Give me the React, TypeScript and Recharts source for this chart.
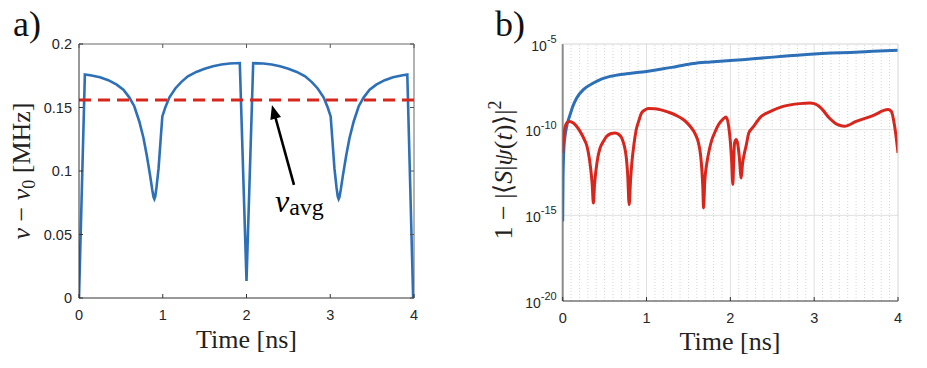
import React from 'react';
import { LineChart, Line, XAxis, YAxis, ReferenceLine } from 'recharts';

const SANS = '"Liberation Sans", Arial, Helvetica, sans-serif';
const SERIF = '"Liberation Serif", "Times New Roman", serif';

// ---------- shared ----------
const timeTicks = [0, 1, 2, 3, 4];

// ---------- panel a ----------
const aYTicks = [0, 0.05, 0.1, 0.15, 0.2];
const aYTickLabels = ['0', '0.05', '0.1', '0.15', '0.2'];
const aTimes = [0, 0.07, 0.15, 0.25, 0.35, 0.45, 0.53, 0.6, 0.66, 0.72, 0.77, 0.81, 0.85, 0.875, 0.89, 0.9, 0.91, 0.925, 0.95, 0.975, 0.995, 1.03, 1.08, 1.15, 1.22, 1.3, 1.4, 1.5, 1.6, 1.7, 1.8, 1.92, 2.0, 2.08, 2.2, 2.3, 2.4, 2.5, 2.6, 2.7, 2.78, 2.85, 2.92, 2.97, 3.005, 3.025, 3.05, 3.075, 3.09, 3.1, 3.11, 3.125, 3.15, 3.19, 3.23, 3.28, 3.34, 3.4, 3.47, 3.55, 3.65, 3.75, 3.85, 3.92, 3.99];
const aValues = [0, 0.176, 0.1752, 0.1738, 0.1715, 0.168, 0.164, 0.158, 0.151, 0.139, 0.126, 0.112, 0.096, 0.085, 0.0795, 0.078, 0.0798, 0.087, 0.102, 0.125, 0.143, 0.15, 0.158, 0.165, 0.17, 0.1745, 0.178, 0.1805, 0.1825, 0.1838, 0.1846, 0.185, 0.0134, 0.185, 0.1846, 0.1838, 0.1825, 0.1805, 0.178, 0.1745, 0.17, 0.165, 0.158, 0.15, 0.143, 0.125, 0.102, 0.087, 0.0798, 0.078, 0.0795, 0.085, 0.096, 0.112, 0.126, 0.139, 0.151, 0.158, 0.164, 0.168, 0.1715, 0.1738, 0.1752, 0.176, 0];
const vAvg = 0.156;
const arrowTail = { t: 2.567, v: 0.089 };
const arrowHead = { t: 2.304, v: 0.152 };

// ---------- panel b ----------
const bYTicks = [1e-20, 1e-15, 1e-10, 1e-5];
const bYTickExps = ['-20', '-15', '-10', '-5'];
const bMajorX = [1, 2, 3];
const bMajorY = [1e-15, 1e-10];
const bMinorX = [0.1, 0.2, 0.3, 0.4, 0.5, 0.6, 0.7, 0.8, 0.9, 1.1, 1.2, 1.3, 1.4, 1.5, 1.6, 1.7, 1.8, 1.9, 2.1, 2.2, 2.3, 2.4, 2.5, 2.6, 2.7, 2.8, 2.9, 3.1, 3.2, 3.3, 3.4, 3.5, 3.6, 3.7, 3.8, 3.9];

const blueTimes = [0, 0.004, 0.016, 0.03, 0.048, 0.068, 0.088, 0.12, 0.167, 0.25, 0.366, 0.46, 0.565, 0.764, 1.0, 1.2, 1.36, 1.56, 1.76, 2.0, 2.24, 2.35, 2.63, 2.8, 3.0, 3.2, 3.43, 3.7, 4.0];
const blueExps = [-15.35, -12.8, -10.97, -10.3, -9.8, -9.42, -9.12, -8.65, -8.15, -7.65, -7.28, -7.05, -6.89, -6.73, -6.6, -6.45, -6.31, -6.14, -6.05, -5.96, -5.88, -5.83, -5.72, -5.65, -5.58, -5.53, -5.49, -5.43, -5.37];

const redTimes = [0, 0.016, 0.048, 0.08, 0.127, 0.207, 0.26, 0.29, 0.315, 0.335, 0.352, 0.366, 0.38, 0.398, 0.42, 0.446, 0.49, 0.525, 0.57, 0.625, 0.67, 0.705, 0.735, 0.757, 0.775, 0.793, 0.81, 0.825, 0.85, 0.877, 0.91, 0.94, 0.98, 1.02, 1.1, 1.16, 1.26, 1.36, 1.45, 1.52, 1.58, 1.62, 1.645, 1.66, 1.672, 1.68, 1.695, 1.72, 1.75, 1.78, 1.82, 1.86, 1.91, 1.95, 1.98, 2.0, 2.015, 2.03, 2.04, 2.05, 2.07, 2.09, 2.105, 2.13, 2.145, 2.16, 2.19, 2.22, 2.28, 2.35, 2.48, 2.63, 2.83, 2.95, 3.0, 3.08, 3.18, 3.28, 3.36, 3.5, 3.7, 3.88, 3.92, 3.96, 4.0];
const redExps = [-11.36, -10.2, -9.61, -9.52, -9.61, -10.1, -10.6, -10.97, -11.6, -12.33, -13.2, -14.28, -13.2, -12.33, -11.6, -11.07, -10.65, -10.39, -10.24, -10.19, -10.28, -10.49, -10.95, -11.56, -12.6, -14.38, -12.9, -11.94, -10.85, -10.0, -9.45, -9.03, -8.85, -8.77, -8.78, -8.83, -8.98, -9.18, -9.45, -9.8, -10.25, -10.78, -11.5, -12.33, -13.4, -14.57, -13.0, -11.94, -11.15, -10.58, -10.1, -9.7, -9.4, -9.26, -9.8, -10.7, -11.8, -13.2, -11.8, -10.78, -10.58, -10.9, -11.5, -12.82, -12.0, -11.56, -10.9, -10.2, -9.8, -9.32, -8.93, -8.64, -8.48, -8.45, -8.48, -8.73, -9.32, -9.71, -9.8, -9.52, -9.18, -8.83, -8.93, -9.8, -11.36];

const aData = aTimes.map((t, i) => ({ t, v: aValues[i] }));
const blueData = blueTimes.map((t, i) => ({ t, v: Math.pow(10, blueExps[i]) }));
const redData = redTimes.map((t, i) => ({ t, v: Math.pow(10, redExps[i]) }));

const BLUE = '#2e70b8';
const RED = '#d9261c';
const TICK_TEXT = '#262626';

// ---------- custom ticks ----------
function BottomTick(props: any) {
  const { x, y, payload } = props;
  return (
    <g>
      <line x1={x} y1={y} x2={x} y2={y - 4} stroke="#333" strokeWidth={1} />
      <text x={x} y={y + 21.5} textAnchor="middle" fontFamily={SANS} fontSize={14.5} fill={TICK_TEXT}>
        {payload.value}
      </text>
    </g>
  );
}
function TopTick(props: any) {
  const { x, y } = props;
  return <line x1={x} y1={y} x2={x} y2={y + 4} stroke="#555" strokeWidth={1} />;
}
function RightTick(props: any) {
  const { x, y } = props;
  return <line x1={x} y1={y} x2={x - 4} y2={y} stroke="#555" strokeWidth={1} />;
}
function LeftTickA(props: any) {
  const { x, y, index } = props;
  return (
    <g>
      <line x1={x} y1={y} x2={x + 4} y2={y} stroke="#333" strokeWidth={1} />
      <text x={x - 7} y={y + 5} textAnchor="end" fontFamily={SANS} fontSize={14.5} fill={TICK_TEXT}>
        {aYTickLabels[index]}
      </text>
    </g>
  );
}
function LeftTickB(props: any) {
  const { x, y, index } = props;
  return (
    <g>
      <text x={x - 6} y={y + 6.5} textAnchor="end" fontFamily={SANS} fontSize={14} fill={TICK_TEXT}>
        10<tspan fontSize={11} dy={-7.5}>{bYTickExps[index]}</tspan>
      </text>
    </g>
  );
}

function ArrowShape(props: any) {
  const { x1, y1, x2, y2 } = props;
  const dx = x2 - x1;
  const dy = y2 - y1;
  const len = Math.hypot(dx, dy) || 1;
  const ux = dx / len;
  const uy = dy / len;
  const headLen = 14;
  const headW = 5.5;
  const bx = x2 - ux * headLen;
  const by = y2 - uy * headLen;
  const px = -uy;
  const py = ux;
  return (
    <g>
      <line x1={x1} y1={y1} x2={bx + ux * 2} y2={by + uy * 2} stroke="#000" strokeWidth={2.6} />
      <polygon
        points={`${x2},${y2} ${bx + px * headW},${by + py * headW} ${bx - px * headW},${by - py * headW}`}
        fill="#000"
      />
      <text x={x1 - 19} y={y1 + 27} fontFamily={SERIF} fontSize={32} fill="#000">
        <tspan fontStyle="italic">v</tspan>
        <tspan fontSize={24} dy={3}>avg</tspan>
      </text>
    </g>
  );
}

function PanelA() {
  return (
    <LineChart width={460} height={368} margin={{ top: 43, right: 45, bottom: 69, left: 78 }}>
      <XAxis
        xAxisId="b"
        dataKey="t"
        type="number"
        domain={[0, 4]}
        ticks={timeTicks}
        interval={0}
        height={1}
        tickSize={0}
        tickMargin={0}
        tick={<BottomTick />}
        axisLine={{ stroke: '#333', strokeWidth: 1 }}
        allowDataOverflow
      />
      <XAxis
        xAxisId="top"
        orientation="top"
        dataKey="t"
        type="number"
        domain={[0, 4]}
        ticks={timeTicks}
        interval={0}
        height={1}
        tickSize={0}
        tickMargin={0}
        tick={<TopTick />}
        axisLine={{ stroke: '#666', strokeWidth: 1 }}
        allowDataOverflow
      />
      <YAxis
        yAxisId="l"
        type="number"
        domain={[0, 0.2]}
        ticks={aYTicks}
        interval={0}
        width={1}
        tickSize={0}
        tickMargin={0}
        tick={<LeftTickA />}
        axisLine={{ stroke: '#333', strokeWidth: 1 }}
        allowDataOverflow
      />
      <YAxis
        yAxisId="r"
        orientation="right"
        type="number"
        domain={[0, 0.2]}
        ticks={aYTicks}
        interval={0}
        width={1}
        tickSize={0}
        tickMargin={0}
        tick={<RightTick />}
        axisLine={{ stroke: '#666', strokeWidth: 1 }}
        allowDataOverflow
      />
      <Line
        xAxisId="b"
        yAxisId="l"
        data={aData}
        dataKey="v"
        type="linear"
        stroke={BLUE}
        strokeWidth={2.6}
        dot={false}
        isAnimationActive={false}
      />
      <ReferenceLine
        xAxisId="b"
        yAxisId="l"
        y={vAvg}
        stroke={RED}
        strokeWidth={3}
        strokeDasharray="12 7"
      />
      <ReferenceLine
        xAxisId="b"
        yAxisId="l"
        segment={[
          { x: arrowTail.t, y: arrowTail.v },
          { x: arrowHead.t, y: arrowHead.v },
        ]}
        shape={<ArrowShape />}
      />
    </LineChart>
  );
}

function PanelB() {
  return (
    <LineChart width={464} height={368} margin={{ top: 43, right: 28, bottom: 66, left: 98.7 }}>
      <XAxis
        xAxisId="b"
        dataKey="t"
        type="number"
        domain={[0, 4]}
        ticks={timeTicks}
        interval={0}
        height={1}
        tickSize={0}
        tickMargin={0}
        tick={<BottomTick />}
        axisLine={{ stroke: '#333', strokeWidth: 1 }}
        allowDataOverflow
      />
      <XAxis
        xAxisId="top"
        orientation="top"
        dataKey="t"
        type="number"
        domain={[0, 4]}
        ticks={timeTicks}
        interval={0}
        height={1}
        tick={false}
        axisLine={{ stroke: '#d4d4d4', strokeWidth: 1 }}
        allowDataOverflow
      />
      <YAxis
        yAxisId="l"
        type="number"
        scale="log"
        domain={[1e-20, 1e-5]}
        ticks={bYTicks}
        interval={0}
        width={1}
        tickSize={0}
        tickMargin={0}
        tick={<LeftTickB />}
        axisLine={false}
        allowDataOverflow
      />
      <YAxis
        yAxisId="r"
        orientation="right"
        type="number"
        scale="log"
        domain={[1e-20, 1e-5]}
        ticks={bYTicks}
        interval={0}
        width={1}
        tick={false}
        axisLine={{ stroke: '#d4d4d4', strokeWidth: 1 }}
        allowDataOverflow
      />
      {bMinorX.map((x) => (
        <ReferenceLine
          key={'mx' + x}
          xAxisId="b"
          yAxisId="l"
          x={x}
          stroke="#d6d6d6"
          strokeWidth={1}
          strokeDasharray="1 2"
        />
      ))}
      {bMajorX.map((x) => (
        <ReferenceLine key={'Mx' + x} xAxisId="b" yAxisId="l" x={x} stroke="#e0e0e0" strokeWidth={1} />
      ))}
      {bMajorY.map((y) => (
        <ReferenceLine key={'My' + y} xAxisId="b" yAxisId="l" y={y} stroke="#e0e0e0" strokeWidth={1} />
      ))}
      <ReferenceLine xAxisId="b" yAxisId="l" x={0} stroke="#8a8a8a" strokeWidth={2} />
      <Line
        xAxisId="b"
        yAxisId="l"
        data={blueData}
        dataKey="v"
        type="monotone"
        stroke={BLUE}
        strokeWidth={3}
        dot={false}
        isAnimationActive={false}
      />
      <Line
        xAxisId="b"
        yAxisId="l"
        data={redData}
        dataKey="v"
        type="monotone"
        stroke={RED}
        strokeWidth={3}
        dot={false}
        isAnimationActive={false}
      />
    </LineChart>
  );
}

export default function App() {
  return (
    <div style={{ position: 'absolute', left: 0, top: 0, width: 927, height: 368, background: '#fff', overflow: 'hidden' }}>
      <div style={{ position: 'absolute', left: 0, top: 0 }}>
        <PanelA />
      </div>
      <div style={{ position: 'absolute', left: 463, top: 0 }}>
        <PanelB />
      </div>
      <svg
        width={927}
        height={368}
        style={{ position: 'absolute', left: 0, top: 0, pointerEvents: 'none' }}
      >
        <text x={13} y={36} fontFamily={SERIF} fontSize={36} fill="#111">a)</text>
        <text x={495} y={36} fontFamily={SERIF} fontSize={36} fill="#111">b)</text>
        <text x={246.5} y={348} textAnchor="middle" fontFamily={SERIF} fontSize={26} fill="#222">Time [ns]</text>
        <text x={730} y={350} textAnchor="middle" fontFamily={SERIF} fontSize={26} fill="#222">Time [ns]</text>
        <g transform="translate(30,171) rotate(-90)">
          <text x={0} y={0} textAnchor="middle" fontFamily={SERIF} fontSize={26} fill="#222">
            <tspan fontStyle="italic">ν</tspan>
            <tspan> − </tspan>
            <tspan fontStyle="italic">ν</tspan>
            <tspan fontSize={18} dy={5}>0</tspan>
            <tspan dy={-5}> [MHz]</tspan>
          </text>
        </g>
        <g transform="translate(512,170) rotate(-90)">
          <text x={0} y={0} textAnchor="middle" fontFamily={SERIF} fontSize={26} fill="#222">
            <tspan>1 − |⟨</tspan>
            <tspan fontStyle="italic">S</tspan>
            <tspan>|</tspan>
            <tspan fontStyle="italic">ψ</tspan>
            <tspan>(</tspan>
            <tspan fontStyle="italic">t</tspan>
            <tspan>)⟩|</tspan>
            <tspan fontSize={18} dy={-11}>2</tspan>
          </text>
        </g>
      </svg>
    </div>
  );
}
